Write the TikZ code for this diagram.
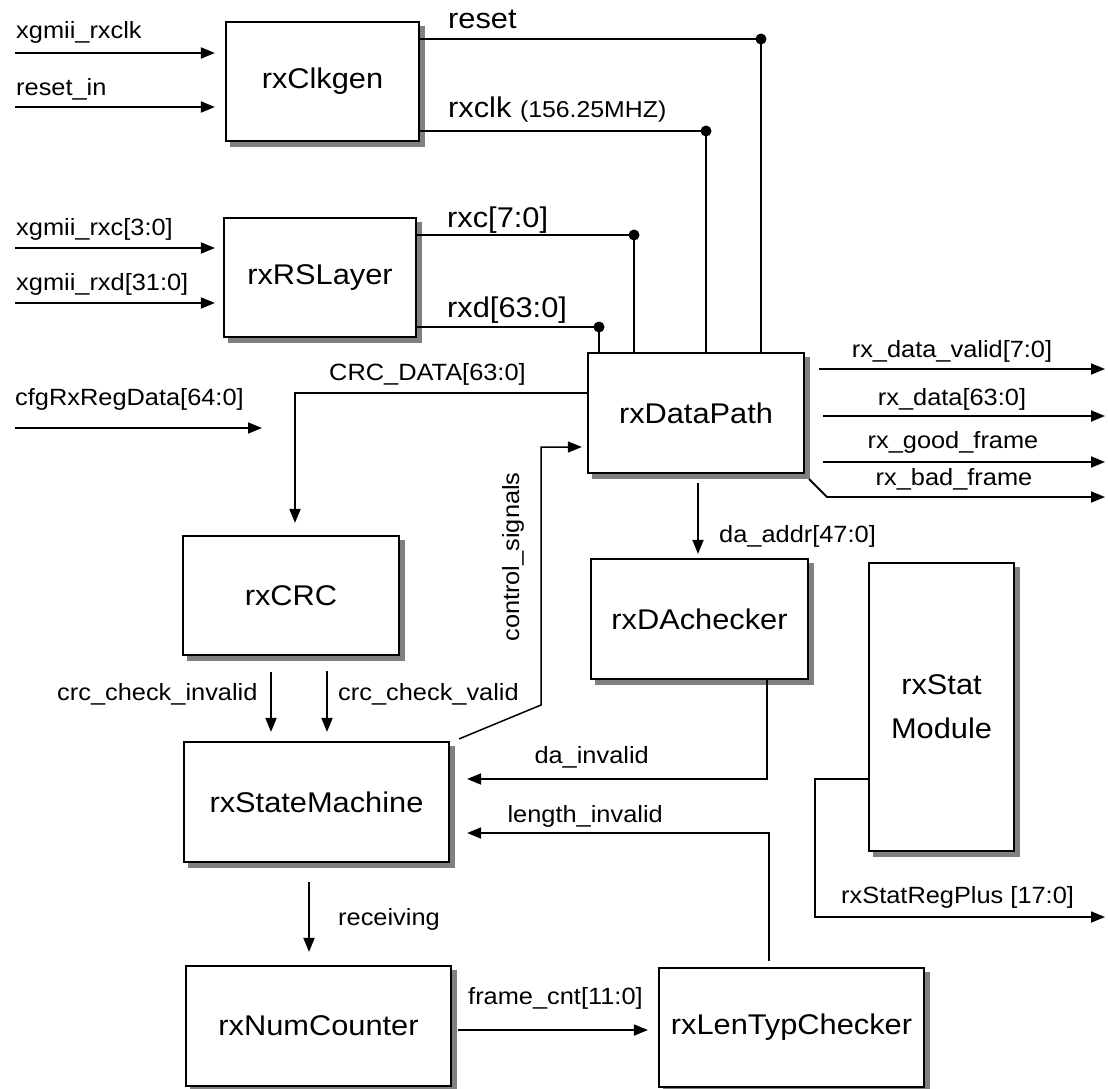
\documentclass[tikz,border=0pt]{standalone}
\usepackage{fontspec}
\setmainfont{Liberation Sans}[FakeStretch=1.08]
\usetikzlibrary{arrows.meta,calc}
\pgfdeclarelayer{bg}
\pgfsetlayers{bg,main}
\begin{document}
\begin{tikzpicture}[x=1pt,y=-1pt,
  blk/.style={draw, line width=2.2pt, fill=white, inner sep=0pt,
    font=\fontsize{28.5}{34}\selectfont},
  shade/.style={fill=black!50},
  lab/.style={inner sep=0pt, font=\fontsize{23.5}{28}\selectfont},
  big/.style={inner sep=0pt, font=\fontsize{28.5}{34}\selectfont},
  wire/.style={line width=1.8pt},
  arr/.style={wire, -{Triangle[length=14pt,width=11pt]}},
  jdot/.style={fill=black}
]
\begin{pgfonlayer}{bg}
\fill[white] (0,0) rectangle (1108,1089);
\end{pgfonlayer}
\useasboundingbox (0,0) rectangle (1108,1089);

% ---- blocks
\node[blk, minimum width=193pt, minimum height=119pt] (clk) at (322.5,81.5) {rxClkgen};
\node[blk, minimum width=192pt, minimum height=119pt] (rs) at (320,277.5) {rxRSLayer};
\node[blk, minimum width=216pt, minimum height=120pt] (dp) at (696,413) {rxDataPath};
\node[blk, minimum width=216pt, minimum height=119pt] (crc) at (291,595.5) {rxCRC};
\node[blk, minimum width=217pt, minimum height=120pt] (da) at (699.5,619) {rxDAchecker};
\node[blk, minimum width=145pt, minimum height=288pt, align=center,
      font=\fontsize{28.5}{44}\selectfont] (stat) at (941.5,707) {rxStat\\Module};
\node[blk, minimum width=265pt, minimum height=120pt] (sm) at (316.5,802) {rxStateMachine};
\node[blk, minimum width=265pt, minimum height=120pt] (num) at (318.5,1026) {rxNumCounter};
\node[blk, minimum width=265pt, minimum height=119pt] (len) at (791.5,1027.5) {rxLenTypChecker};

% ---- box shadows
\begin{pgfonlayer}{bg}
\foreach \b in {clk,rs,dp,crc,da,stat,sm,num,len}
  \fill[shade] ($(\b.south west)+(5,5)$) rectangle ($(\b.north east)+(5,5)$);
\end{pgfonlayer}

% ---- input arrows
\coordinate (in1) at (15,53);
\coordinate (in2) at (15,107);
\coordinate (in3) at (15,248);
\coordinate (in4) at (15,303);
\draw[arr, shorten >=10pt] (in1) -- (in1 -| clk.west);
\draw[arr, shorten >=10pt] (in2) -- (in2 -| clk.west);
\draw[arr, shorten >=8pt] (in3) -- (in3 -| rs.west);
\draw[arr, shorten >=8pt] (in4) -- (in4 -| rs.west);
\node[lab, anchor=base west] (l1) at (16,39) {xgmii\_rxclk};
\node[lab, anchor=base west] (l2) at (16,96) {reset\_in};
\node[lab, anchor=base west] (l3) at (16,235) {xgmii\_rxc[3:0]};
\node[lab, anchor=base west] (l4) at (16,290) {xgmii\_rxd[31:0]};

\coordinate (cfgS) at (15,428);
\coordinate (cfgE) at (262,428);
\draw[arr] (cfgS) -- (cfgE);
\node[lab, anchor=base west] (l5) at (15,405) {cfgRxRegData[64:0]};

% ---- clock/reset and RS layer outputs into data path
\coordinate (jreset) at (761,39);
\coordinate (jclk) at (706,131);
\coordinate (jrxc) at (634,235);
\coordinate (jrxd) at (599,327);
\draw[wire] (clk.east |- jreset) -- (jreset) -- (jreset |- dp.north);
\draw[wire] (clk.east |- jclk) -- (jclk) -- (jclk |- dp.north);
\draw[wire] (rs.east |- jrxc) -- (jrxc) -- (jrxc |- dp.north);
\draw[wire] (rs.east |- jrxd) -- (jrxd) -- (jrxd |- dp.north);
\fill[jdot] (jreset) circle (5.5pt);
\fill[jdot] (jclk) circle (5.5pt);
\fill[jdot] (jrxc) circle (5.5pt);
\fill[jdot] (jrxd) circle (5.5pt);
\node[big, anchor=base west] (lreset) at (448,29) {reset};
\node[big, anchor=base west] (lclk) at (448,118) {rxclk {\fontsize{23}{28}\selectfont(156.25MHZ)}};
\node[big, anchor=base west] (lrxc) at (447,227) {rxc[7:0]};
\node[big, anchor=base west] (lrxd) at (447,317) {rxd[63:0]};

% ---- data path outputs
\coordinate (o1s) at (819,369);  \coordinate (o1e) at (1105,369);
\coordinate (o2s) at (823,416);  \coordinate (o2e) at (1105,416);
\coordinate (o3s) at (823,462);  \coordinate (o3e) at (1105,462);
\coordinate (o4s) at (827,497);  \coordinate (o4e) at (1105,497);
\draw[arr] (o1s) -- (o1e);
\draw[arr] (o2s) -- (o2e);
\draw[arr] (o3s) -- (o3e);
\draw[arr] ($(dp.south east)+(4,5)$) -- (o4s) -- (o4e);
\node[lab, anchor=base] (lo1) at (952,357) {rx\_data\_valid[7:0]};
\node[lab, anchor=base] (lo2) at (952,405) {rx\_data[63:0]};
\node[lab, anchor=base] (lo3) at (953,448) {rx\_good\_frame};
\node[lab, anchor=base] (lo4) at (954,485) {rx\_bad\_frame};

% ---- CRC data
\coordinate (crcturn) at (295,393);
\draw[arr, shorten >=12pt] (dp.west |- crcturn) -- (crcturn) -- (crcturn |- crc.north);
\node[lab, anchor=base west] (lcrc) at (329,380) {CRC\_DATA[63:0]};

% ---- control signals
\coordinate (ctl1) at (541,705);
\coordinate (ctl2) at (541,447);
\draw[arr, line width=1.5pt, shorten >=5pt] ($(sm.north east)+(9,-2)$) -- (ctl1) -- (ctl2) -- (ctl2 -| dp.west);
\node[lab, rotate=90] (lctl) at (513,557) {control\_signals};

% ---- crc checks
\coordinate (cci) at (271,672);
\coordinate (ccv) at (327,671);
\draw[arr, shorten >=9pt] (cci) -- (cci |- sm.north);
\draw[arr, shorten >=9pt] (ccv) -- (ccv |- sm.north);
\node[lab, anchor=base west] (lcci) at (57,700) {crc\_check\_invalid};
\node[lab, anchor=base west] (lccv) at (338,700) {crc\_check\_valid};

% ---- DA address
\coordinate (daa) at (698,483);
\draw[arr, shorten >=4pt] (daa) -- (daa |- da.north);
\node[lab, anchor=base west] (ldaa) at (719,542) {da\_addr[47:0]};

% ---- da_invalid, length_invalid
\coordinate (dai) at (767,779);
\draw[arr, shorten >=17pt] (dai |- da.south) -- (dai) -- (dai -| sm.east);
\node[lab, anchor=base east] (ldai) at (649,763) {da\_invalid};
\coordinate (lni) at (769,833);
\coordinate (lnb) at (769,961);
\draw[arr, shorten >=17pt] (lnb) -- (lni) -- (lni -| sm.east);
\node[lab, anchor=base east] (llni) at (663,822) {length\_invalid};

% ---- receiving
\coordinate (rcv) at (309,882);
\draw[arr, shorten >=13pt] (rcv) -- (rcv |- num.north);
\node[lab, anchor=base west] (lrcv) at (338,925) {receiving};

% ---- frame count
\coordinate (fc) at (458,1030);
\draw[arr, shorten >=10pt] (fc) -- (fc -| len.west);
\node[lab, anchor=base west] (lfc) at (468,1004) {frame\_cnt[11:0]};

% ---- stat output
\coordinate (st1) at (815,779);
\coordinate (st2) at (815,917);
\coordinate (stE) at (1105,917);
\draw[arr] (st1 -| stat.west) -- (st1) -- (st2) -- (stE);
\node[lab, anchor=base west] (lst) at (841,903) {rxStatRegPlus [17:0]};
\end{tikzpicture}
\end{document}
